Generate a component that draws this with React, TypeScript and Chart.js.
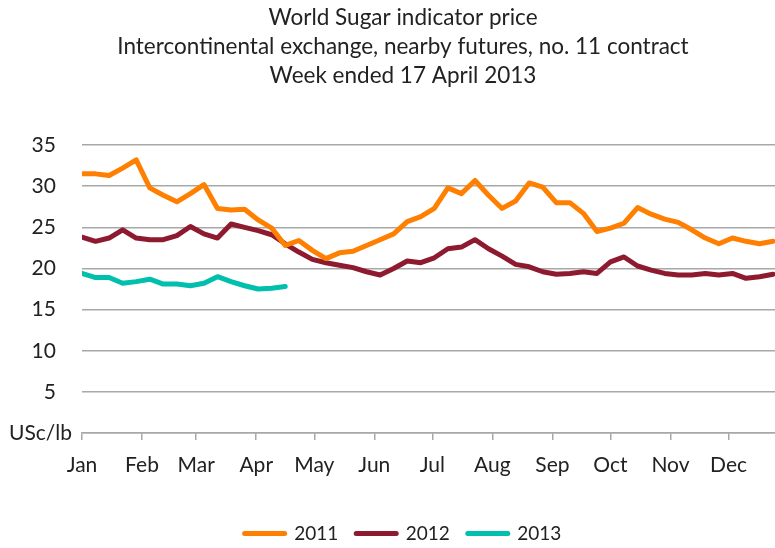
import React, { useEffect, useRef } from 'react';
import { Chart, registerables } from 'chart.js';

Chart.register(...registerables);

// ---- Data (weekly observations, US cents per lb) ----
const titleLines = [
  'World Sugar indicator price',
  'Intercontinental exchange, nearby futures, no. 11 contract',
  'Week ended 17 April 2013',
];
const monthLabels = ['Jan', 'Feb', 'Mar', 'Apr', 'May', 'Jun', 'Jul', 'Aug', 'Sep', 'Oct', 'Nov', 'Dec'];
const monthStartDays = [0, 31, 59, 90, 120, 151, 181, 212, 243, 273, 304, 334];
const daysPerWeek = 7;
const yTickValues = [0, 5, 10, 15, 20, 25, 30, 35];
const unitLabel = 'USc/lb';

const seriesNames = ['2011', '2012', '2013'];
const price2011 = [
  31.5, 31.5, 31.3, 32.2, 33.2, 29.8, 28.9, 28.1, 29.1, 30.2, 27.3, 27.1, 27.2,
  25.9, 24.9, 22.8, 23.4, 22.2, 21.2, 21.9, 22.1, 22.8, 23.5, 24.2, 25.7, 26.3, 27.3,
  29.8, 29.1, 30.7, 28.9, 27.3, 28.2, 30.4, 29.9, 28.0, 28.0, 26.7, 24.5, 24.9,
  25.5, 27.4, 26.6, 26.0, 25.6, 24.7, 23.7, 23.0, 23.7, 23.3, 23.0, 23.3,
];
const price2012 = [
  23.8, 23.3, 23.7, 24.7, 23.7, 23.5, 23.5, 24.0, 25.1, 24.2, 23.7, 25.4, 25.0, 24.6,
  24.1, 23.0, 22.0, 21.1, 20.7, 20.4, 20.1, 19.6, 19.2, 20.0, 20.9, 20.7, 21.3,
  22.4, 22.6, 23.5, 22.4, 21.5, 20.5, 20.2, 19.6, 19.3, 19.4, 19.6, 19.4, 20.8,
  21.4, 20.3, 19.8, 19.4, 19.2, 19.2, 19.4, 19.2, 19.4, 18.8, 19.0, 19.3,
];
const price2013 = [
  19.4, 18.9, 18.9, 18.2, 18.4, 18.7, 18.1, 18.1, 17.9, 18.2, 19.0, 18.4, 17.9, 17.5, 17.6, 17.8,
];

const seriesColors = ['#ff7f00', '#8e1a30', '#00bfad'];
const gridColor = '#a8a8a8';
const textColor = '#222';
const fontFamily = 'Lato, "Open Sans", sans-serif';

export default function App() {
  const canvasRef = useRef<HTMLCanvasElement>(null);

  useEffect(() => {
    const canvas = canvasRef.current;
    if (!canvas) return;
    const toPoints = (arr: number[]) => arr.map((y, i) => ({ x: i * daysPerWeek, y }));
    const allSeries = [price2011, price2012, price2013];

    const chart = new Chart(canvas, {
      type: 'line',
      data: {
        datasets: allSeries.map((arr, k) => ({
          label: seriesNames[k],
          data: toPoints(arr),
          borderColor: seriesColors[k],
          backgroundColor: seriesColors[k],
          borderWidth: 5,
          pointRadius: 0,
          pointHoverRadius: 0,
          tension: 0,
          fill: false,
          borderJoinStyle: 'round' as const,
          borderCapStyle: 'round' as const,
        })),
      },
      options: {
        responsive: false,
        animation: false,
        events: [],
        layout: { padding: { left: 0, right: 0, top: 0, bottom: -5 } },
        plugins: {
          tooltip: { enabled: false },
          title: {
            display: true,
            text: titleLines,
            color: textColor,
            font: { family: fontFamily, size: 22.5, weight: 'normal', lineHeight: 1.29 },
            padding: { top: 3, bottom: 55 },
          },
          legend: {
            display: true,
            position: 'bottom',
            labels: {
              color: textColor,
              font: { family: fontFamily, size: 19 },
              usePointStyle: true,
              pointStyleWidth: 40,
              boxHeight: 5,
              padding: 18,
              generateLabels: (ch: any) =>
                ch.data.datasets.map((ds: any, i: number) => ({
                  text: ds.label,
                  fillStyle: ds.borderColor,
                  strokeStyle: ds.borderColor,
                  lineWidth: 5,
                  lineCap: 'round',
                  pointStyle: 'line',
                  hidden: false,
                  datasetIndex: i,
                  fontColor: textColor,
                })),
            },
          },
        },
        scales: {
          x: {
            type: 'linear',
            min: 0,
            max: 374,
            afterBuildTicks: (scale: any) => {
              scale.ticks = monthStartDays.map((v) => ({ value: v }));
            },
            afterFit: (scale: any) => {
              scale.height = 73;
            },
            ticks: {
              autoSkip: false,
              maxRotation: 0,
              color: textColor,
              font: { family: fontFamily, size: 21 },
              padding: 12.5,
              callback: (value: any) => {
                const idx = monthStartDays.indexOf(Number(value));
                return idx >= 0 ? monthLabels[idx] : '';
              },
            },
            grid: {
              drawOnChartArea: false,
              drawTicks: true,
              tickLength: 7,
              color: gridColor,
              lineWidth: 1.5,
            },
            border: { display: true, color: gridColor, width: 1.5 },
          },
          y: {
            type: 'linear',
            min: 0,
            max: 35,
            afterFit: (scale: any) => {
              scale.width = 82;
            },
            afterBuildTicks: (scale: any) => {
              scale.ticks = yTickValues.map((v) => ({ value: v }));
            },
            ticks: {
              color: textColor,
              font: { family: fontFamily, size: 21 },
              padding: 10,
              callback: (value: any) => (Number(value) === 0 ? unitLabel : String(value) + '   '),
            },
            grid: { color: gridColor, lineWidth: 1.5, drawTicks: false },
            border: { display: false },
          },
        },
      },
    });
    return () => chart.destroy();
  }, []);

  return (
    <div style={{ position: 'fixed', left: 0, top: 0, width: 775, height: 548, overflow: 'hidden', background: '#fff' }}>
      <canvas ref={canvasRef} width={806} height={548} style={{ display: 'block' }} />
    </div>
  );
}
